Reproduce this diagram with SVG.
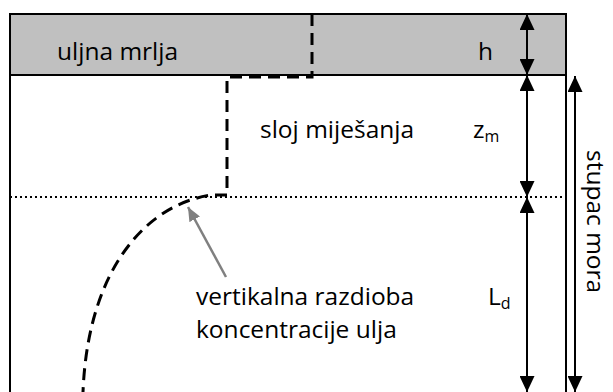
<svg xmlns="http://www.w3.org/2000/svg" width="613" height="392" viewBox="0 0 613 392">
<style>
text{font-family:"Open Sans","Noto Sans","DejaVu Sans",sans-serif;font-size:24.5px;fill:#000}
.sub{font-size:16px}
.frame{fill:none;stroke:#000;stroke-width:2}
.dim{stroke:#000;stroke-width:2;fill:none;marker-start:url(#ah);marker-end:url(#ah)}
.prof{fill:none;stroke:#000;stroke-width:3;stroke-dasharray:12 7}
.dot{stroke:#000;stroke-width:2;stroke-dasharray:2 3}
</style>
<defs>
<marker id="ah" viewBox="0 0 16 15" refX="16" refY="7.5" markerWidth="16" markerHeight="15" markerUnits="userSpaceOnUse" orient="auto-start-reverse"><path d="M0,0 L16,7.5 L0,15 z" fill="#000"/></marker>
<marker id="gh" viewBox="0 0 14 12" refX="14" refY="6" markerWidth="14" markerHeight="12" markerUnits="userSpaceOnUse" orient="auto"><path d="M0,0 L14,6 L0,12 z" fill="#808080"/></marker>
<clipPath id="clip2"><rect x="180" y="310" width="240" height="36"/></clipPath>
</defs>
<rect width="613" height="392" fill="#fff"/>
<g id="oil-slick">
<rect x="10" y="14" width="556" height="61" fill="#c0c0c0" stroke="#000" stroke-width="2"/>
<text x="57" y="60">uljna mrlja</text>
<text x="478" y="60">h</text>
</g>
<g id="sea-column">
<path class="frame" d="M10,75 V392 M566,75 V392"/>
<line class="dot" x1="10" y1="197" x2="566" y2="197"/>
<text transform="translate(587,150) rotate(90)">stupac mora</text>
</g>
<g id="mixing-layer">
<text x="260" y="138">sloj miješanja</text>
<text x="473" y="138">z<tspan class="sub" dy="4">m</tspan></text>
</g>
<g id="depth-layer">
<text x="488" y="305">L<tspan class="sub" dy="4">d</tspan></text>
</g>
<g id="profile">
<path class="prof" d="M312,14 V77 H227 V195 H212 C150,203 88,265 83,392"/>
<text x="196" y="305">vertikalna razdioba</text>
<text x="196" y="338" clip-path="url(#clip2)">koncentracije ulja</text>
</g>
<g id="connectors">
<line class="dim" x1="527" y1="14" x2="527" y2="75"/>
<line class="dim" x1="527" y1="75" x2="527" y2="197"/>
<line class="dim" x1="527" y1="197" x2="527" y2="392"/>
<line class="dim" x1="575" y1="76" x2="575" y2="392"/>
<line x1="226" y1="277" x2="188" y2="207" stroke="#808080" stroke-width="2.5" marker-end="url(#gh)"/>
</g>
</svg>
